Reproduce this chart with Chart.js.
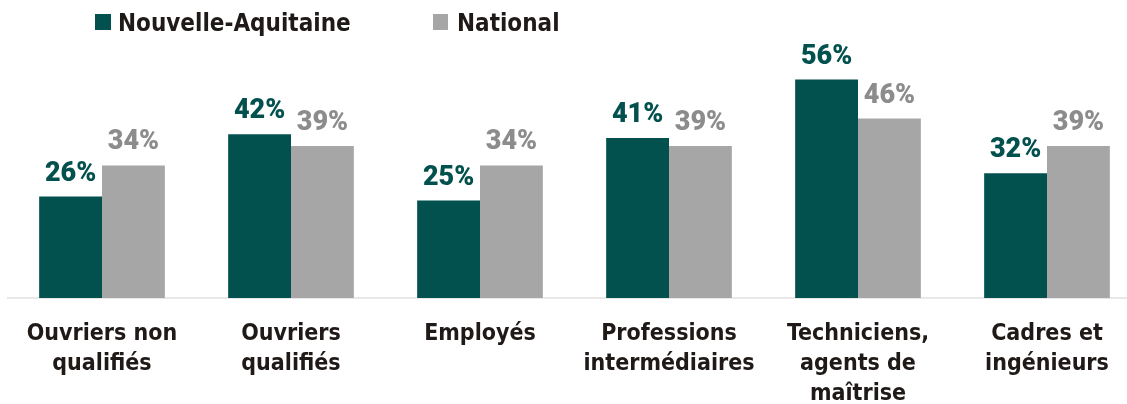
<!DOCTYPE html>
<html><head><meta charset="utf-8">
<script src="https://cdn.jsdelivr.net/npm/chart.js@4.4.1/dist/chart.umd.min.js"></script>
<style>
html,body{margin:0;padding:0;background:#fff;overflow:hidden;width:1127px;height:404px;}
#wrap{position:relative;width:1142px;height:404px;}
</style></head><body>
<div id="wrap"><canvas id="c"></canvas></div>
<script>
const categories = [
  ["Ouvriers non","qualifiés"],
  ["Ouvriers","qualifiés"],
  ["Employés"],
  ["Professions","intermédiaires"],
  ["Techniciens,","agents de","maîtrise"],
  ["Cadres et","ingénieurs"]
];
const seriesNames = ["Nouvelle-Aquitaine","National"];
const nouvelleAquitaine = [26, 42, 25, 41, 56, 32];
const national = [34, 39, 34, 39, 46, 39];

const TEAL = "#03514F", GREY = "#A6A6A6", GREY_LABEL = "#8C8C8C", DARK = "#1F1A17";
const NARROW = "'DejaVu Sans Condensed', 'Liberation Sans Narrow', Roboto, sans-serif";

const valueLabels = {
  id: 'valueLabels',
  afterDatasetsDraw(chart) {
    const ctx = chart.ctx;
    ctx.save();
    ctx.font = "900 27px Roboto, sans-serif";
    ctx.textAlign = "center";
    ctx.textBaseline = "alphabetic";
    chart.data.datasets.forEach((ds, i) => {
      const meta = chart.getDatasetMeta(i);
      ctx.fillStyle = i === 0 ? TEAL : GREY_LABEL;
      meta.data.forEach((bar, j) => {
        ctx.fillText(ds.data[j] + "%", bar.x, bar.y - 16);
      });
    });
    ctx.restore();
  }
};

const customLegend = {
  id: 'customLegend',
  afterDraw(chart) {
    const ctx = chart.ctx;
    ctx.save();
    const items = [{x: 95, tx: 118, w: 16}, {x: 433, tx: 457, w: 15}];
    ctx.font = "bold 24px " + NARROW;
    ctx.textBaseline = "alphabetic";
    ctx.textAlign = "left";
    chart.data.datasets.forEach((ds, i) => {
      const it = items[i];
      ctx.fillStyle = ds.backgroundColor;
      ctx.fillRect(it.x, 14, it.w, 16);
      ctx.fillStyle = DARK;
      ctx.fillText(ds.label, it.tx, 31);
    });
    ctx.restore();
  }
};

new Chart(document.getElementById('c'), {
  type: 'bar',
  data: {
    labels: categories,
    datasets: [
      {label: seriesNames[0], data: nouvelleAquitaine, backgroundColor: TEAL, categoryPercentage: 0.665, barPercentage: 1.0},
      {label: seriesNames[1], data: national, backgroundColor: GREY, categoryPercentage: 0.665, barPercentage: 1.0}
    ]
  },
  options: {
    responsive: true,
    maintainAspectRatio: false,
    animation: false,
    devicePixelRatio: 1,
    layout: {padding: {top: 64, left: 7.5, right: 0.5, bottom: 0}},
    plugins: {legend: {display: false}, tooltip: {enabled: false}},
    scales: {
      x: {
        grid: {display: false, drawTicks: false},
        border: {display: true, color: "#E8E8E8", width: 2},
        ticks: {
          color: DARK,
          font: {family: NARROW, size: 23, weight: 'bold', lineHeight: 1.3},
          padding: 21,
          maxRotation: 0,
          autoSkip: false
        },
        afterFit(scale) { scale.height = 106; }
      },
      y: {
        display: false,
        min: 0,
        max: 60
      }
    }
  },
  plugins: [valueLabels, customLegend]
});
</script>
</body></html>
